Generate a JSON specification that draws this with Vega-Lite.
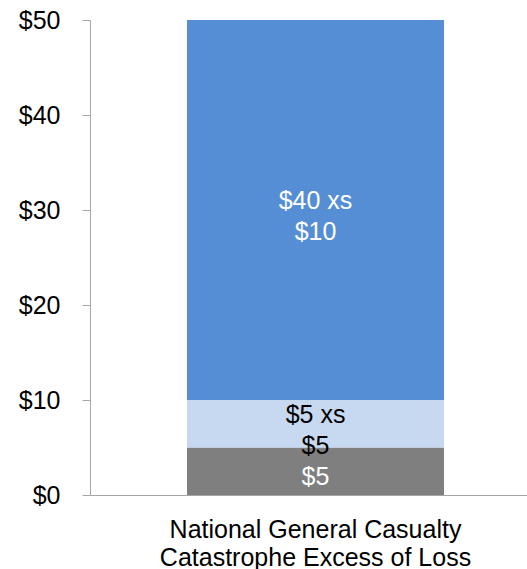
{
  "$schema": "https://vega.github.io/schema/vega-lite/v6.json",
  "autosize": "none",
  "width": 451,
  "height": 475,
  "padding": {"left": 90, "top": 20, "right": 0, "bottom": 74},
  "background": "white",
  "config": {
    "view": {"stroke": null},
    "font": "Liberation Sans",
    "axis": {"grid": false, "domainColor": "#a6a6a6", "tickColor": "#a6a6a6", "labelColor": "#000000", "labelFont": "Liberation Sans", "labelFontSize": 25, "title": null}
  },
  "data": {
    "values": [
      {"category": "National General Casualty Catastrophe Excess of Loss", "layer": "Retention", "low": 0, "high": 5, "label": "$5"},
      {"category": "National General Casualty Catastrophe Excess of Loss", "layer": "$5 xs $5", "low": 5, "high": 10, "label": "$5 xs\n$5"},
      {"category": "National General Casualty Catastrophe Excess of Loss", "layer": "$40 xs $10", "low": 10, "high": 50, "label": "$40 xs\n$10"}
    ]
  },
  "encoding": {
    "x": {
      "field": "category", "type": "nominal",
      "scale": {"paddingInner": 0, "paddingOuter": 0},
      "axis": {"labelAngle": 0, "ticks": false, "labelPadding": 22, "labelLineHeight": 28, "labelLimit": 0, "labelExpr": "['National General Casualty', 'Catastrophe Excess of Loss']", "labelBaseline": "top"}
    }
  },
  "layer": [
    {
      "mark": {"type": "bar", "size": 257},
      "encoding": {
        "y": {"field": "low", "type": "quantitative", "scale": {"domain": [0, 50], "nice": false}, "axis": {"values": [0, 10, 20, 30, 40, 50], "labelExpr": "'$' + datum.value", "tickSize": 8, "labelPadding": 22}},
        "y2": {"field": "high"},
        "color": {"field": "layer", "type": "nominal", "scale": {"domain": ["Retention", "$5 xs $5", "$40 xs $10"], "range": ["#7f7f7f", "#c6d9f1", "#558ed5"]}, "legend": null}
      }
    },
    {
      "transform": [{"filter": "indexof(datum.label, '\\n') < 0"}, {"calculate": "(datum.low + datum.high) / 2", "as": "mid"}],
      "mark": {"type": "text", "fontSize": 25, "dy": 6, "baseline": "middle", "align": "center"},
      "encoding": {
        "y": {"field": "mid", "type": "quantitative"},
        "text": {"field": "label"},
        "color": {"field": "layer", "type": "nominal", "scale": {"domain": ["Retention", "$5 xs $5", "$40 xs $10"], "range": ["#ffffff", "#000000", "#ffffff"]}, "legend": null}
      }
    },
    {
      "transform": [{"filter": "indexof(datum.label, '\\n') >= 0"}, {"calculate": "(datum.low + datum.high) / 2", "as": "mid"}],
      "mark": {"type": "text", "lineBreak": "\n", "lineHeight": 31, "fontSize": 25, "dy": -9, "baseline": "middle", "align": "center"},
      "encoding": {
        "y": {"field": "mid", "type": "quantitative"},
        "text": {"field": "label"},
        "color": {"field": "layer", "type": "nominal", "scale": {"domain": ["Retention", "$5 xs $5", "$40 xs $10"], "range": ["#ffffff", "#000000", "#ffffff"]}, "legend": null}
      }
    }
  ],
  "resolve": {"scale": {"color": "independent"}}
}
